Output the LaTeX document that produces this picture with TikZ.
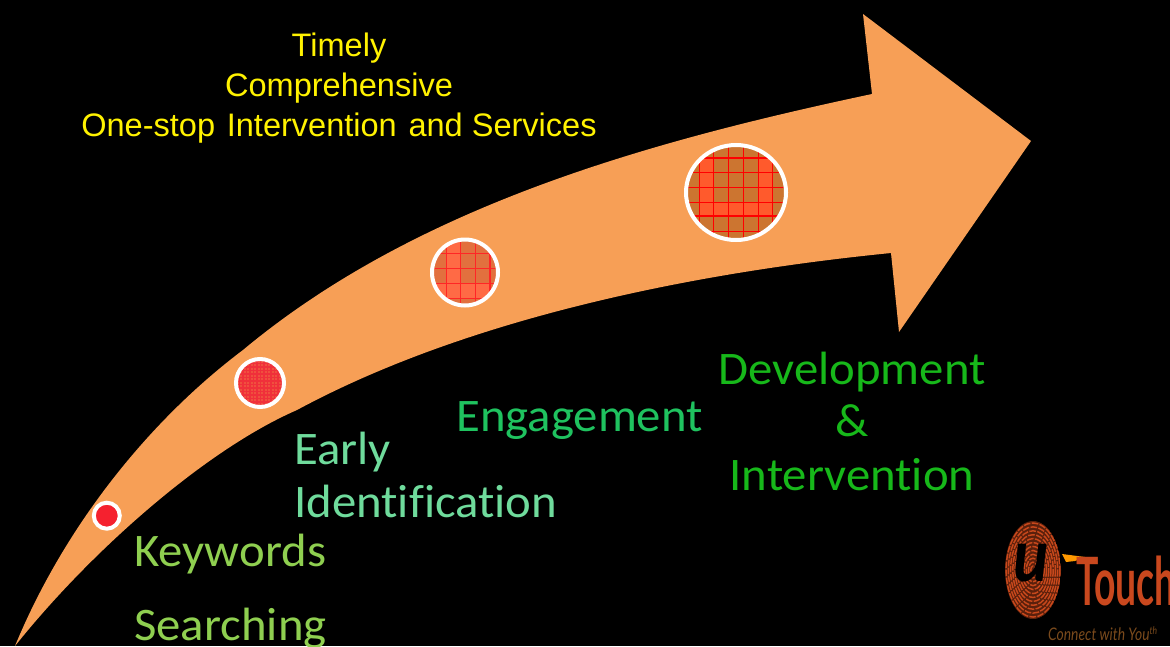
\documentclass[tikz,border=0pt]{standalone}
\usepackage{fontspec}
\setmainfont[Ligatures=CommonOff]{Carlito}
\newfontfamily\arialf{Liberation Sans}
\newfontfamily\logof{Lato}
\definecolor{arrowc}{HTML}{F79F56}
\definecolor{ckA}{HTML}{CC7530}
\definecolor{ckB}{HTML}{FF5A2C}
\definecolor{ckC}{HTML}{E2703E}
\definecolor{ckD}{HTML}{FF6A45}
\definecolor{ckE}{HTML}{F0503E}
\definecolor{ckG}{HTML}{F0303A}
\definecolor{ckF}{HTML}{F5212F}
\definecolor{kwc}{HTML}{8FCF50}
\definecolor{eic}{HTML}{6FDB9C}
\definecolor{enc}{HTML}{1FC25F}
\definecolor{dvc}{HTML}{17B81A}
\definecolor{fpc}{HTML}{C8481C}
\definecolor{tchc}{HTML}{C9481E}
\definecolor{cwc}{HTML}{7A4A1C}
\tikzset{
  lab/.style={font=\fontsize{35}{35}\selectfont, inner sep=0pt, xscale=1.045},
  topt/.style={font=\arialf\fontsize{24.4}{24.4}\selectfont, text=yellow, inner sep=0pt, anchor=base},
  ring/.style={draw=white, line width=3pt},
  gridl/.style={draw=red, line width=1.1pt},
  gridm/.style={draw=red!85!white, line width=1pt}
}
\begin{document}
\begin{tikzpicture}[x=0.75pt,y=-0.75pt]
\useasboundingbox (0,0) rectangle (1170,646);
\clip (0,0) rectangle (1170,646);
\fill[black] (0,0) rectangle (1170,646);
% arrow
\fill[arrowc] (15,646) .. controls (65,525) and (150,420) .. (243,350)
  .. controls (417,205) and (651,141) .. (872,94)
  -- (863,14) -- (1031,141) -- (899,332) -- (891,253)
  .. controls (680,274) and (460,322) .. (297,410)
  .. controls (205,450) and (90,552) .. (15,646) -- cycle;
% circle 4
\begin{scope}
\clip (736,192.5) ellipse (50 and 47.5);
\fill[ckA] (680,135) rectangle (790,250);
\fill[ckB] (699,158) rectangle (713,216);
\fill[ckB] (758,158) rectangle (773,216);
\fill[ckB] (699,202) rectangle (773,216);
\foreach \v in {699.3,713.3,728.3,743.3,758.3,772.7} \draw[gridl] (\v,135) -- (\v,250);
\foreach \v in {158,172.3,187.3,202.3,216,231.7} \draw[gridl] (680,\v) -- (790,\v);
\end{scope}
\draw[ring] (736,192.5) ellipse (50 and 47.5);
% circle 3
\begin{scope}
\clip (465,272.5) circle (33);
\fill[ckC] (430,236) rectangle (500,310);
\fill[ckD] (446.7,236) rectangle (460.3,298);
\fill[ckD] (430,283) rectangle (490,298);
\foreach \v in {446.7,460.3,475.3,490} \draw[gridm] (\v,236) -- (\v,310);
\foreach \v in {253.3,268.3,283.3,298.3} \draw[gridm] (430,\v) -- (500,\v);
\end{scope}
\draw[ring] (465,272.5) circle (33);
% circle 2
\begin{scope}
\clip (260,383) circle (24);
\fill[ckE] (234,357) rectangle (286,409);
\foreach \v in {236,239.5,...,286} \draw[draw=ckG, line width=0.9pt] (\v,357) -- (\v,409);
\foreach \v in {360,363.5,...,409} \draw[draw=ckG, line width=0.9pt] (234,\v) -- (286,\v);
\end{scope}
\draw[ring] (260,383) circle (24);
% circle 1
\fill[ckF] (106.8,515.7) circle (13);
\draw[ring] (106.8,515.7) circle (13);
% top text
\node[topt] (t1) at (339,56) {Timely};
\node[topt] (t2) at (339,96) {Comprehensive};
\node[topt] (t3) at (339,136) {One-stop\hspace{2pt} Intervention\hspace{2pt} and Services};
% labels
\node[lab, text=kwc, anchor=base west] (k1) at (134,566) {Keywords};
\node[lab, text=kwc, anchor=base west] (k2) at (134,640) {Searching};
\node[lab, text=eic, anchor=base west] (e1) at (294,464) {Early};
\node[lab, text=eic, anchor=base west] (e2) at (294,517) {Identification};
\node[lab, text=enc, anchor=base west] (en) at (456,431) {Engagement};
\node[lab, text=dvc, anchor=base] (d1) at (852,384) {Development};
\node[lab, text=dvc, anchor=base] (d2) at (852,436) {\&};
\node[lab, text=dvc, anchor=base] (d3) at (852,490) {Intervention};
% logo
\begin{scope}
\clip (1033,570) ellipse (28 and 49);
\fill[fpc!45!black] (1033,570) ellipse (28 and 49);
\foreach \r in {0.08,0.16,...,1.0}
  \draw[fpc, line width=1.1pt, dash pattern=on 5pt off 1pt] (1033,570) ellipse ({28*\r} and {49*\r});
\end{scope}
\node[inner sep=0pt, text=black, font=\logof\itshape\bfseries\fontsize{52}{52}\selectfont, xscale=0.95, yscale=1.05] (u) at (1031,563) {u};
\fill[orange!80!yellow] (1062,554) -- (1085,557) -- (1075,561) -- (1066,562) -- cycle;
\node[inner sep=0pt, text=tchc, anchor=base west, font=\logof\bfseries\fontsize{50}{50}\selectfont, xscale=0.56] (tch) at (1076,605) {Touch};
\node[inner sep=0pt, text=cwc, anchor=base west, font=\logof\itshape\fontsize{13}{13}\selectfont, xscale=0.8] (cw) at (1048,640) {Connect with You\raisebox{4pt}{\fontsize{8}{8}\selectfont th}};
\end{tikzpicture}
\end{document}
